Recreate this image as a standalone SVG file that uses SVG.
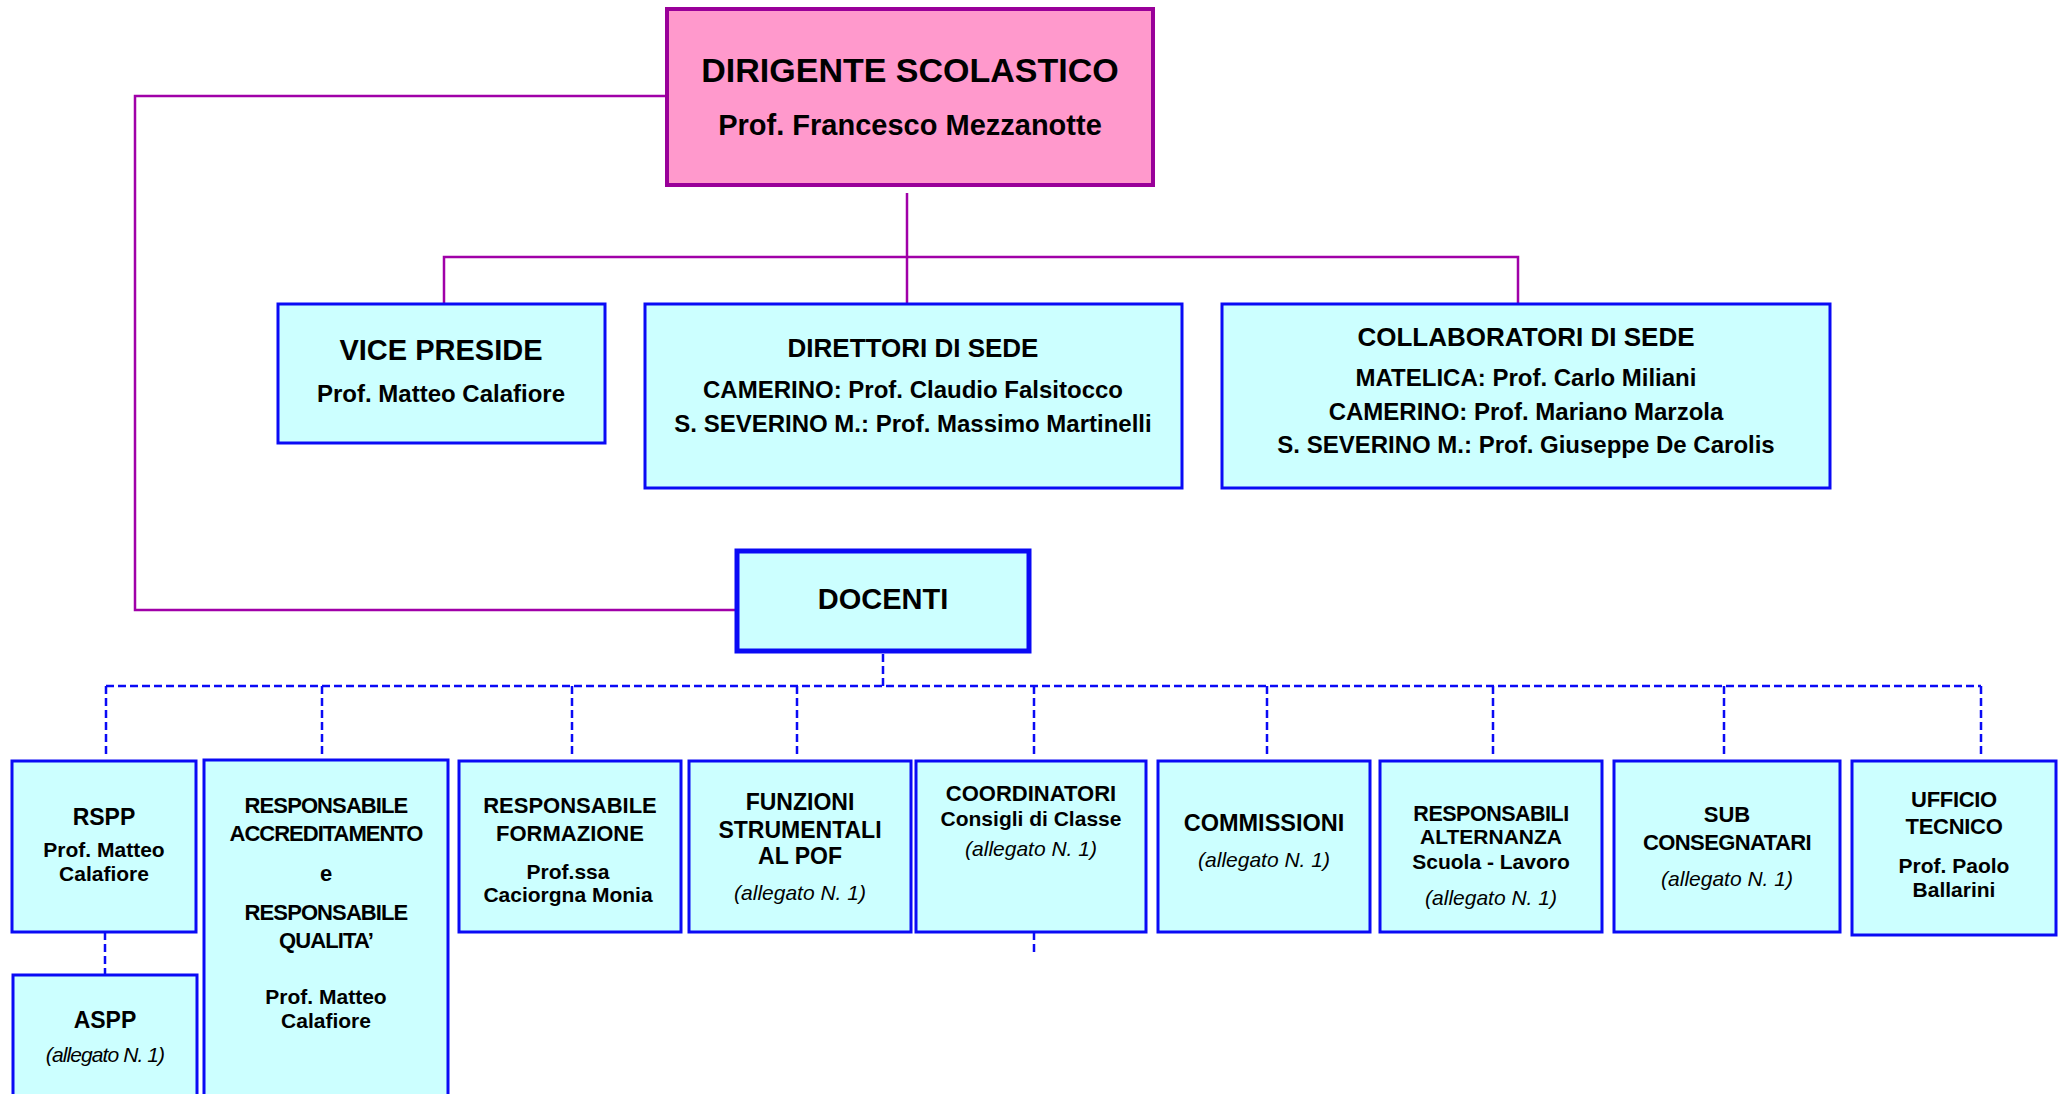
<svg xmlns="http://www.w3.org/2000/svg" width="2061" height="1094" viewBox="0 0 2061 1094">
<style>
text{font-family:"Liberation Sans",Arial,sans-serif;font-weight:bold;fill:#000;text-anchor:middle}
.it{font-style:italic;font-weight:normal;font-size:21px}
.box{fill:#CCFFFF;stroke:#0A0AF5;stroke-width:3}
.thick{stroke-width:5}
.pink{fill:#FF99CC;stroke:#990099;stroke-width:4}
.pl{fill:none;stroke:#A000A8;stroke-width:2.5}
.dl{fill:none;stroke:#0A0AF5;stroke-width:2.5;stroke-dasharray:8 4}
</style>
<rect width="2061" height="1094" fill="#fff"/>
<g id="connectors">
<path class="pl" d="M667 96 H135 V610 H741"/>
<path class="pl" d="M907 193 V303"/>
<path class="pl" d="M444 306 V257 H1518 V303"/>
<path class="dl" d="M883 654 V686"/>
<path class="dl" d="M106 686 H1981"/>
<path class="dl" d="M106 686 V758 M322 686 V758 M572 686 V758 M797 686 V758 M1034 686 V758 M1267 686 V758 M1493 686 V758 M1724 686 V758 M1981 686 V758"/>
<path class="dl" d="M105 932 V975"/>
<path class="dl" d="M1034 932 V956"/>
</g>
<g id="dirigente">
<rect class="pink" x="667" y="9" width="486" height="176"/>
<text x="910" y="82" font-size="34">DIRIGENTE SCOLASTICO</text>
<text x="910" y="135" font-size="29">Prof. Francesco Mezzanotte</text>
</g>
<g id="vice">
<rect class="box" x="278" y="304" width="327" height="139"/>
<text x="441" y="360" font-size="29">VICE PRESIDE</text>
<text x="441" y="402" font-size="24">Prof. Matteo Calafiore</text>
</g>
<g id="direttori">
<rect class="box" x="645" y="304" width="537" height="184"/>
<text x="913" y="357" font-size="26">DIRETTORI DI SEDE</text>
<text x="913" y="398" font-size="24">CAMERINO: Prof. Claudio Falsitocco</text>
<text x="913" y="432" font-size="24">S. SEVERINO M.: Prof. Massimo Martinelli</text>
</g>
<g id="collaboratori">
<rect class="box" x="1222" y="304" width="608" height="184"/>
<text x="1526" y="346" font-size="26">COLLABORATORI DI SEDE</text>
<text x="1526" y="386" font-size="24">MATELICA: Prof. Carlo Miliani</text>
<text x="1526" y="420" font-size="24">CAMERINO: Prof. Mariano Marzola</text>
<text x="1526" y="453" font-size="24">S. SEVERINO M.: Prof. Giuseppe De Carolis</text>
</g>
<g id="docenti">
<rect class="box thick" x="737" y="551" width="292" height="100"/>
<text x="883" y="609" font-size="29">DOCENTI</text>
</g>
<g id="rspp">
<rect class="box" x="12" y="761" width="184" height="171"/>
<text x="104" y="825" font-size="23">RSPP</text>
<text x="104" y="857" font-size="21">Prof. Matteo</text>
<text x="104" y="881" font-size="21">Calafiore</text>
</g>
<g id="aspp">
<rect class="box" x="13" y="975" width="184" height="140"/>
<text x="105" y="1028" font-size="23">ASPP</text>
<text class="it" x="105" y="1062" letter-spacing="-0.9">(allegato N. 1)</text>
</g>
<g id="accreditamento">
<rect class="box" x="204" y="760" width="244" height="360"/>
<text x="326" y="813" font-size="22" letter-spacing="-0.9">RESPONSABILE</text>
<text x="326" y="841" font-size="22" letter-spacing="-1">ACCREDITAMENTO</text>
<text x="326" y="881" font-size="22">e</text>
<text x="326" y="920" font-size="22" letter-spacing="-0.9">RESPONSABILE</text>
<text x="326" y="948" font-size="22" letter-spacing="-0.9">QUALITA’</text>
<text x="326" y="1004" font-size="21">Prof. Matteo</text>
<text x="326" y="1028" font-size="21">Calafiore</text>
</g>
<g id="formazione">
<rect class="box" x="459" y="761" width="222" height="171"/>
<text x="570" y="813" font-size="22">RESPONSABILE</text>
<text x="570" y="841" font-size="22">FORMAZIONE</text>
<text x="568" y="879" font-size="21">Prof.ssa</text>
<text x="568" y="902" font-size="21">Caciorgna Monia</text>
</g>
<g id="funzioni">
<rect class="box" x="689" y="761" width="222" height="171"/>
<text x="800" y="810" font-size="23">FUNZIONI</text>
<text x="800" y="838" font-size="23">STRUMENTALI</text>
<text x="800" y="864" font-size="23">AL POF</text>
<text class="it" x="800" y="900">(allegato N. 1)</text>
</g>
<g id="coordinatori">
<rect class="box" x="916" y="761" width="230" height="171"/>
<text x="1031" y="801" font-size="22">COORDINATORI</text>
<text x="1031" y="826" font-size="21">Consigli di Classe</text>
<text class="it" x="1031" y="856">(allegato N. 1)</text>
</g>
<g id="commissioni">
<rect class="box" x="1158" y="761" width="212" height="171"/>
<text x="1264" y="831" font-size="23.5">COMMISSIONI</text>
<text class="it" x="1264" y="867">(allegato N. 1)</text>
</g>
<g id="alternanza">
<rect class="box" x="1380" y="761" width="222" height="171"/>
<text x="1491" y="821" font-size="21.5" letter-spacing="-0.5">RESPONSABILI</text>
<text x="1491" y="844" font-size="21">ALTERNANZA</text>
<text x="1491" y="869" font-size="21">Scuola - Lavoro</text>
<text class="it" x="1491" y="905">(allegato N. 1)</text>
</g>
<g id="subconsegnatari">
<rect class="box" x="1614" y="761" width="226" height="171"/>
<text x="1727" y="822" font-size="22">SUB</text>
<text x="1727" y="850" font-size="22" letter-spacing="-0.6">CONSEGNATARI</text>
<text class="it" x="1727" y="886">(allegato N. 1)</text>
</g>
<g id="ufficiotecnico">
<rect class="box" x="1852" y="761" width="204" height="174"/>
<text x="1954" y="807" font-size="22" letter-spacing="-0.3">UFFICIO</text>
<text x="1954" y="834" font-size="22" letter-spacing="-0.3">TECNICO</text>
<text x="1954" y="873" font-size="21">Prof. Paolo</text>
<text x="1954" y="897" font-size="21">Ballarini</text>
</g>
</svg>
